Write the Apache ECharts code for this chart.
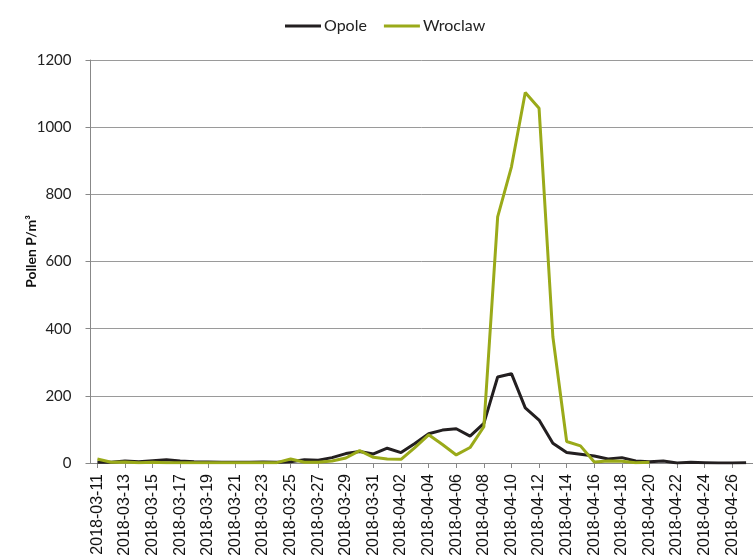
<!DOCTYPE html>
<html>
<head>
<meta charset="utf-8">
<script src="https://cdn.jsdelivr.net/npm/echarts@6/dist/echarts.min.js"></script>
<style>html,body{margin:0;padding:0;background:#fff}#c{width:753px;height:560px}</style>
</head>
<body>
<div id="c"></div>
<script>
var dates = ['2018-03-11','2018-03-12','2018-03-13','2018-03-14','2018-03-15','2018-03-16','2018-03-17','2018-03-18','2018-03-19','2018-03-20',
'2018-03-21','2018-03-22','2018-03-23','2018-03-24','2018-03-25','2018-03-26','2018-03-27','2018-03-28','2018-03-29','2018-03-30',
'2018-03-31','2018-04-01','2018-04-02','2018-04-03','2018-04-04','2018-04-05','2018-04-06','2018-04-07','2018-04-08','2018-04-09',
'2018-04-10','2018-04-11','2018-04-12','2018-04-13','2018-04-14','2018-04-15','2018-04-16','2018-04-17','2018-04-18','2018-04-19',
'2018-04-20','2018-04-21','2018-04-22','2018-04-23','2018-04-24','2018-04-25','2018-04-26','2018-04-27'];

var opole = [2,2,6,4,7,10,6,4,3,2,
2,2,3,2,4,10,8,16,28,34,
27,44,31,58,87,98,102,80,118,256,
266,164,128,59,31,26,21,12,16,6,
4,6,0,2,1,0,0,1];

var wroclaw = [12,2,3,1,2,1,1,1,1,1,
1,1,1,1,12,2,2,6,15,37,
17,12,11,46,84,55,24,46,108,733,
882,1103,1056,376,64,51,3,6,5,1,
2,null,null,null,null,null,null,null];

var yTicks = [0,200,400,600,800,1000,1200];

var chart = echarts.init(document.getElementById('c'));
chart.setOption({
  animation: false,
  legend: {
    left: 280, top: 13,
    itemWidth: 36, itemHeight: 3, itemGap: 17,
    icon: 'rect',
    textStyle: {fontFamily: 'Lato', fontSize: 16, color: '#222', padding: [0,0,0,-2]},
    data: ['Opole','Wroclaw']
  },
  grid: {left: 90.5, right: -7.5, top: 60, bottom: 97, containLabel: false},
  xAxis: {
    type: 'category',
    data: dates,
    boundaryGap: true,
    axisLine: {lineStyle: {color: '#888', width: 1}},
    axisTick: {show: true, alignWithLabel: true, interval: 1, length: 5, lineStyle: {color: '#888'}},
    axisLabel: {interval: 1, rotate: 90, margin: 11, fontFamily: 'Liberation Sans', fontSize: 16, color: '#111'},
    splitLine: {show: false}
  },
  yAxis: {
    type: 'value',
    min: yTicks[0], max: yTicks[yTicks.length-1], interval: 200,
    name: 'Pollen P/m\u00b3',
    nameLocation: 'middle', nameGap: 52, nameMoveOverlap: false,
    nameTextStyle: {fontFamily: 'Lato', fontWeight: 'bold', fontSize: 14, color: '#111', padding: [0,0,0,20]},
    axisLine: {show: true, lineStyle: {color: '#888', width: 1}},
    axisTick: {show: true, inside: false, length: 5, lineStyle: {color: '#888'}},
    axisLabel: {margin: 19, fontFamily: 'Lato', fontSize: 15, color: '#222',
      formatter: function (v) { return String(v); }},
    splitLine: {show: true, lineStyle: {color: '#9a9a9a', width: 1}}
  },
  series: [
    {name: 'Opole', type: 'line', data: opole, showSymbol: false, symbol: 'none',
     lineStyle: {color: '#231f20', width: 3}, itemStyle: {color: '#231f20'}, z: 2},
    {name: 'Wroclaw', type: 'line', data: wroclaw, showSymbol: false, symbol: 'none',
     lineStyle: {color: '#9aaa19', width: 3}, itemStyle: {color: '#9aaa19'}, z: 3}
  ]
});
</script>
</body>
</html>
